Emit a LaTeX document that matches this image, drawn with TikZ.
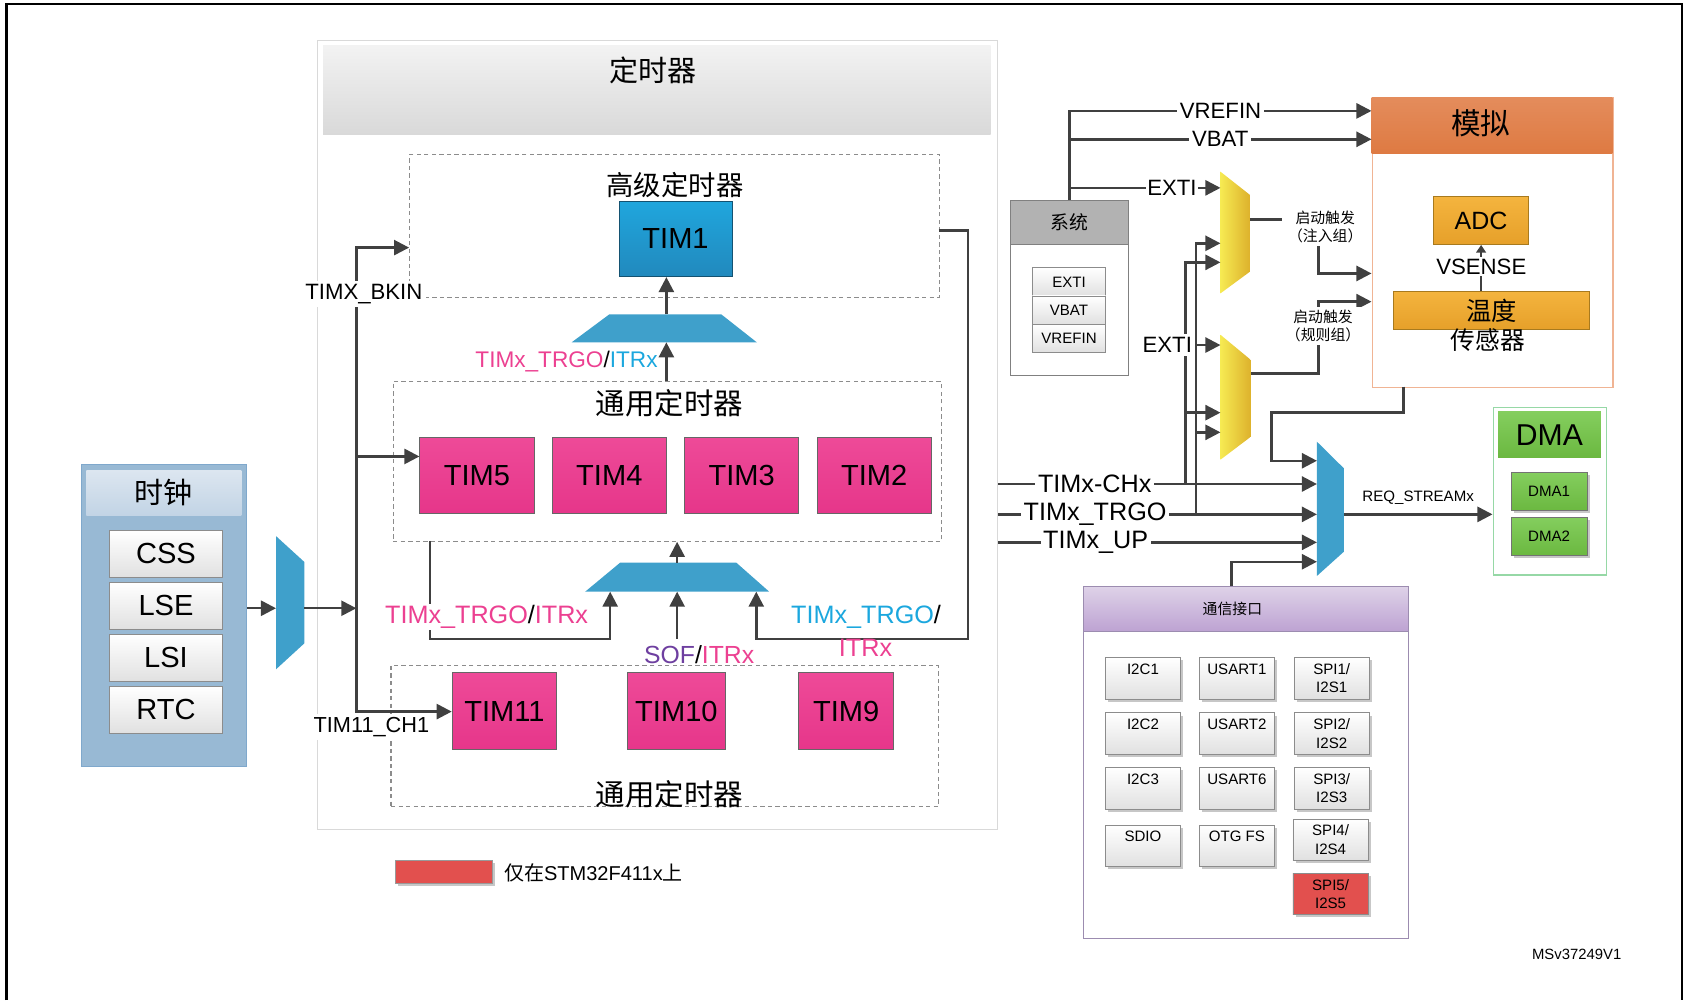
\documentclass[tikz,border=0pt]{standalone}
\usepackage{fontspec}
\setmainfont{Liberation Sans}
\newfontfamily\cjkfont{Noto Sans CJK SC}
\usetikzlibrary{arrows.meta,shadows}
\definecolor{linegray}{HTML}{404040}
\definecolor{muxblue}{HTML}{3FA0CB}
\definecolor{timpink}{HTML}{EE4A98}
\definecolor{timpinkdk}{HTML}{E6368A}
\definecolor{timblue}{HTML}{20A6DD}
\definecolor{timbluedk}{HTML}{2189BD}
\definecolor{txtpink}{HTML}{EC4091}
\definecolor{txtblue}{HTML}{1BA7DE}
\definecolor{txtpurple}{HTML}{6E3FA0}
\definecolor{clkblue}{HTML}{98B9D4}
\definecolor{clkedge}{HTML}{7FA8CC}
\definecolor{clktop}{HTML}{DCE6F0}
\definecolor{clkbot}{HTML}{C2D4E5}
\definecolor{anlgtop}{HTML}{E48C5C}
\definecolor{anlgbot}{HTML}{DE7A42}
\definecolor{anlgedge}{HTML}{F0B494}
\definecolor{adctop}{HTML}{F4B43E}
\definecolor{adcbot}{HTML}{E6A02A}
\definecolor{adcedge}{HTML}{A87A1E}
\definecolor{muxyel}{HTML}{F6EA52}
\definecolor{muxgold}{HTML}{DDB12C}
\definecolor{dmaedge}{HTML}{96D8A6}
\definecolor{dmatop}{HTML}{84CE5E}
\definecolor{dmabot}{HTML}{6BB840}
\definecolor{commtop}{HTML}{DED2E8}
\definecolor{commbot}{HTML}{BDA2D2}
\definecolor{commedge}{HTML}{9C8CB0}
\definecolor{onlyred}{HTML}{E2504E}
\begin{document}
\begin{tikzpicture}[x=1pt,y=-1pt]
  \tikzset{
    fs/.style 2 args={font=\fontsize{#1}{#2}\selectfont},
    cjk/.style 2 args={font=\cjkfont\fontsize{#1}{#2}\selectfont},
    wire/.style={draw=linegray,line width=2.3pt},
    arr/.style={wire,-{Triangle[length=14pt,width=14pt]}},
    cell/.style={inner sep=0pt,anchor=north west},
    dashbox/.style={cell,draw=black!45,line width=1pt,dash pattern=on 4pt off 3pt},
    timbox/.style={draw=black!60,line width=0.8pt,inner sep=0pt,fs={27}{30},minimum width=#1,minimum height=70pt},
    pinkbox/.style={timbox=#1,top color=timpink,bottom color=timpinkdk},
    grayitem/.style={draw=black!45,line width=0.8pt,top color=white,bottom color=black!12,inner sep=0pt},
    shadowed/.style={drop shadow={shadow xshift=2.5pt,shadow yshift=-2.5pt,fill=black!22,opacity=1}},
    commitem/.style={grayitem,shadowed,fs={14}{17},align=center,minimum width=70pt,minimum height=38.5pt},
    sig/.style={fill=white,inner sep=2.5pt,fs={23.4}{26}},
    lbl/.style={fill=white,inner sep=2.5pt,fs={20.6}{24}},
    trg/.style={fill=white,inner xsep=6pt,inner ysep=3pt,align=center,cjk={13.8}{16.5}}
  }
  \useasboundingbox (0,0) rectangle (1568,929);
  \draw[line width=2pt] (6,929) -- (6,3.5) -- (1562.5,3.5) -- (1562.5,929);

  \node[cell,draw=black!15,line width=1.2pt,minimum width=632pt,minimum height=733pt] (tpanel) at (294,37) {};
  \node[cell,top color=black!5,bottom color=black!15,minimum width=620pt,minimum height=83pt] (thead) at (300,42) {};
  \node[cjk={27}{30}] (ttitle) at (607,65) {定时器};

  \node[dashbox,minimum width=492pt,minimum height=132.5pt] (adv) at (380,143) {};
  \node[cjk={25.4}{28}] (advttl) at (627,171.5) {高级定时器};
  \node[timbox=105pt,top color=timblue,bottom color=timbluedk,draw=timbluedk!60!black] (tim1) at (627.5,222) {TIM1};

  \node[dashbox,minimum width=509pt,minimum height=148.7pt] (gen1) at (364.7,353.6) {};
  \node[cjk={27.4}{30}] (gen1ttl) at (622,374.7) {通用定时器};
  \foreach \n/\x in {5/443,4/566,3/689,2/812}
    \node[pinkbox=106pt] (tim\n) at (\x,441.5) {TIM\n};

  \node[dashbox,minimum width=508.3pt,minimum height=131pt] (gen2) at (362.7,617.7) {};
  \node[cjk={27.4}{30}] (gen2ttl) at (622,737.6) {通用定时器};
  \node[pinkbox=97pt,minimum height=71pt] (tim11) at (468.5,660.5) {TIM11};
  \node[pinkbox=90.6pt,minimum height=71pt] (tim10) at (628.3,660.5) {TIM10};
  \node[pinkbox=88pt,minimum height=71pt] (tim9) at (786,660.5) {TIM9};

  \fill[muxblue] (566,292) -- (670,292) -- (703,318) -- (531,318) -- cycle;
  \coordinate (muxAtop) at (619,292);
  \coordinate (muxAbot) at (619,318);
  \fill[muxblue] (576,522.7) -- (684,522.7) -- (714.5,549.6) -- (543.6,549.6) -- cycle;
  \coordinate (muxBtop) at (629,522.7);
  \coordinate (muxBin1) at (566.8,549.6);
  \coordinate (muxBin2) at (629,549.6);
  \coordinate (muxBin3) at (702.5,549.6);

  \node[cell,fill=clkblue,draw=clkedge,line width=1pt,minimum width=153.5pt,minimum height=280.3pt] (clk) at (75,431.3) {};
  \node[cell,top color=clktop,bottom color=clkbot,minimum width=144pt,minimum height=41.8pt,cjk={27}{30}] (clkhd) at (80,436.6) {时钟};
  \foreach \s/\y in {CSS/514.5,LSE/562.8,LSI/611.2,RTC/659.4}
    \node[grayitem,fs={27}{30},minimum width=105.3pt,minimum height=44pt] (clk\s) at (154.2,\y) {\s};

  \fill[muxblue] (256.4,498) -- (282.7,522) -- (282.7,597.6) -- (256.4,621.7) -- cycle;
  \coordinate (ckin) at (256.4,565);
  \coordinate (ckout) at (282.7,565);
  \coordinate (ckbus) at (331,565);
  \coordinate (bkin) at (331,230);
  \coordinate (t5in) at (331,424);
  \coordinate (ch1) at (331,661);

  \draw[arr] (clk.east |- ckin) -- (ckin);
  \draw[arr] (ckout) -- (ckbus);
  \draw[wire,{Triangle[length=14pt,width=14pt]}-{Triangle[length=14pt,width=14pt]}] (bkin -| adv.west) -| (ch1) -- (ch1 -| tim11.west);
  \draw[arr] (t5in) -- (t5in -| tim5.west);
  \node[lbl,inner sep=3pt] (bkinlbl) at (338,273) {TIMX\_BKIN};
  \node[lbl,inner sep=3pt,fs={20.2}{24}] (ch1lbl) at (345,675.5) {TIM11\_CH1};

  \draw[arr] (muxAtop) -- (muxAtop |- tim1.south);
  \draw[arr] (muxAbot |- gen1.north) -- (muxAbot);
  \node[anchor=east,inner sep=1pt,fs={21}{24}] (itrA) at (612,336) {\textcolor{txtpink}{TIMx\_TRGO}/\textcolor{txtblue}{ITRx}};

  \coordinate (t1out) at (872,214);
  \coordinate (loopc) at (899,593.5);
  \coordinate (t2src) at (399.5,502.3);
  \draw[arr] (muxBtop) -- (muxBtop |- gen1.south);
  \draw[arr] (t1out) -| (loopc) -| (muxBin3);
  \draw[arr] (t2src) |- (muxBin1 |- loopc) -- (muxBin1);
  \draw[arr] (muxBin2 |- loopc) -- (muxBin2);
  \node[fill=white,inner sep=1pt,fs={23.4}{26}] (itrB) at (452,573) {\textcolor{txtpink}{TIMx\_TRGO}/\textcolor{txtpink}{ITRx}};
  \node[fill=white,inner sep=1pt,fs={23}{26}] (sofB) at (649.5,608.5) {\textcolor{txtpurple}{SOF}/\textcolor{txtpink}{ITRx}};
  \node[fs={23.4}{26}] (itrC) at (804.5,573) {\textcolor{txtblue}{TIMx\_TRGO}/};
  \node[fs={23.4}{26},text=txtpink] (itrD) at (804,602) {ITRx};

  \node[cell,fill=onlyred,draw=black!40,shadowed,minimum width=90.3pt,minimum height=21.5pt] (lgdbox) at (367,799) {};
  \node[anchor=west,inner sep=0pt,fs={18.6}{22}] (lgdtxt) at (468,810.4) {{\cjkfont 仅在}STM32F411x{\cjkfont 上}};

  \node[cell,draw=black!50,fill=white,line width=1pt,minimum width=110pt,minimum height=162.2pt] (sys) at (938,185.8) {};
  \node[cell,fill=black!30,draw=black!50,line width=1pt,minimum width=110pt,minimum height=40.8pt,cjk={17.5}{20}] (syshd) at (938,185.8) {系统};
  \foreach \s/\y in {EXTI/261.8,VBAT/288.1,VREFIN/314.4}
    \node[grayitem,fs={14}{17},minimum width=68pt,minimum height=26.3pt] (sys\s) at (993,\y) {\s};

  \node[cell,draw=anlgedge,fill=white,line width=1.2pt,minimum width=223.6pt,minimum height=268.8pt] (anlg) at (1274,90.4) {};
  \node[cell,top color=anlgtop,bottom color=anlgbot,minimum width=223.6pt,minimum height=52pt] (anlghd) at (1274,90.4) {};
  \node[cjk={27.5}{30}] (anlgttl) at (1375.6,114.6) {模拟};
  \node[draw=adcedge,line width=1pt,top color=adctop,bottom color=adcbot,inner sep=0pt,minimum width=88.4pt,minimum height=44.3pt,fs={23.2}{26}] (adc) at (1375.8,204.9) {ADC};
  \node[draw=adcedge,line width=1pt,top color=adctop,bottom color=adcbot,inner sep=0pt,minimum width=182.8pt,minimum height=35.4pt,cjk={23.5}{26}] (temp) at (1385.4,288.3) {温度};
  \node[cjk={23}{26}] (tempttl) at (1382,316) {传感器};
  \draw[draw=linegray,line width=1.5pt,-{Triangle[length=7pt,width=9pt]}] (adc.south |- temp.north) -- (adc.south);
  \node[lbl,inner sep=1.5pt] (vsense) at (1376,247.7) {VSENSE};

  \shade[left color=muxyel,right color=muxgold] (1133.7,159.5) -- (1161,181) -- (1161,252.4) -- (1133.7,272.5) -- cycle;
  \shade[left color=muxyel,right color=muxgold] (1133.7,311) -- (1162,334.4) -- (1162,405.6) -- (1133.7,427) -- cycle;
  \coordinate (ma0) at (1133.7,174.5);
  \coordinate (ma1) at (1133.7,226);
  \coordinate (ma2) at (1133.7,243.7);
  \coordinate (maout) at (1161,203.7);
  \coordinate (mb0) at (1133.7,320.5);
  \coordinate (mb1) at (1133.7,383.3);
  \coordinate (mb2) at (1133.7,401.6);
  \coordinate (mbout) at (1162,346.8);

  \fill[muxblue] (1223.3,410.3) -- (1248.3,435) -- (1248.3,512.5) -- (1223.3,535) -- cycle;
  \foreach \i/\y in {1/428,2/449.6,3/477.8,4/503.8,5/521.8}
    \coordinate (dm\i) at (1223.3,\y);
  \coordinate (dmout) at (1248.3,477.8);

  \draw[arr] (tpanel.east |- dm2) -- node[sig,pos=0.303] (chx) {TIMx-CHx} (dm2);
  \draw[arr] (tpanel.east |- dm3) -- node[sig,pos=0.304] (trgo) {TIMx\_TRGO} (dm3);
  \draw[arr] (tpanel.east |- dm4) -- node[sig,pos=0.306] (tup) {TIMx\_UP} (dm4);
  \coordinate (chxv) at (1101.4,449.6);
  \coordinate (trgov) at (1111,477.8);
  \draw[arr] (chxv) |- (ma2);
  \draw[arr] (chxv |- mb1) -- (mb1);
  \draw[arr] (trgov) |- (ma1);
  \draw[arr] (trgov |- mb2) -- (mb2);

  \coordinate (vref) at (993,103);
  \coordinate (vbat) at (993,129.4);
  \coordinate (exta) at (993,174.5);
  \draw[arr] (sys.north) |- node[lbl,pos=0.75] (vreflbl) {VREFIN} (vref -| anlg.west);
  \draw[arr] (vbat) -- node[lbl] (vbatlbl) {VBAT} (vbat -| anlg.west);
  \draw[arr] (exta) -- node[lbl,pos=0.68,inner sep=1pt] (extalbl) {EXTI} (ma0);
  \node[lbl,inner sep=3pt] (extblbl) at (1084.3,320.5) {EXTI};
  \draw[arr] (extblbl.east) -- (mb0);

  \coordinate (jA) at (1224.7,203.7);
  \coordinate (ainj) at (1274,254);
  \coordinate (jB) at (1224.7,346.8);
  \coordinate (areg) at (1274,280.2);
  \draw[arr] (maout) -- (jA) |- (ainj);
  \draw[arr] (mbout) -- (jB) |- (areg);
  \node[trg] (trgA) at (1231,211) {启动触发\\（注入组）};
  \node[trg] (trgB) at (1229,302.5) {启动触发\\（规则组）};

  \node[cell,draw=dmaedge,fill=white,line width=1.2pt,minimum width=105.6pt,minimum height=155.7pt] (dmabox) at (1386.4,377.8) {};
  \node[cell,top color=dmatop,bottom color=dmabot,minimum width=95.4pt,minimum height=42.4pt,fs={28}{30}] (dmahd) at (1391.4,382.4) {DMA};
  \node[draw=black!55,top color=dmatop,bottom color=dmabot,shadowed,inner sep=0pt,minimum width=70.3pt,minimum height=35.6pt,fs={14}{17}] (dma1) at (1439,456.6) {DMA1};
  \node[draw=black!55,top color=dmatop,bottom color=dmabot,shadowed,inner sep=0pt,minimum width=70.3pt,minimum height=35.6pt,fs={14}{17}] (dma2) at (1439,498.1) {DMA2};
  \draw[arr] (dmout) -- node[above=8pt,inner sep=0pt,fs={14}{17}] (reqlbl) {REQ\_STREAMx} (dmout -| dmabox.west);

  \coordinate (aout) at (1303.6,359.2);
  \coordinate (abend) at (1181,383);
  \draw[arr] (aout) |- (abend) |- (dm1);

  \node[cell,draw=commedge,fill=white,line width=1pt,minimum width=302.5pt,minimum height=326.6pt] (comm) at (1005.7,544.4) {};
  \node[cell,draw=commedge,line width=1pt,top color=commtop,bottom color=commbot,minimum width=302.5pt,minimum height=41.8pt] (commhd) at (1005.7,544.4) {};
  \node[cjk={13.8}{16}] (commttl) at (1144.8,566) {通信接口};
  \coordinate (cout) at (1144,544.4);
  \draw[arr] (cout) |- (dm5);
  \foreach \nm/\x/\y/\t in {i2ca/1061.7/630.2/I2C1,usarta/1149/630.2/USART1,
      i2cb/1061.7/681.4/I2C2,usartb/1149/681.4/USART2,
      i2cc/1061.7/732.2/I2C3,usartc/1149/732.2/USART6,
      sdio/1061.7/785.7/SDIO,otg/1149/785.7/OTG FS}
    \node[commitem] (\nm) at (\x,\y) {\t\\\mbox{}};
  \foreach \nm/\x/\y/\t in {spia/1237/630.2/1,spib/1237/681.4/2,spic/1237/732.2/3,spid/1236/780/4}
    \node[commitem] (\nm) at (\x,\y) {SPI\t/\\I2S\t};
  \node[commitem,top color=onlyred,bottom color=onlyred] (spie) at (1236,830.5) {SPI5/\\I2S5};

  \node[fs={13.8}{16}] (msv) at (1464.6,886.5) {MSv37249V1};
\end{tikzpicture}
\end{document}
